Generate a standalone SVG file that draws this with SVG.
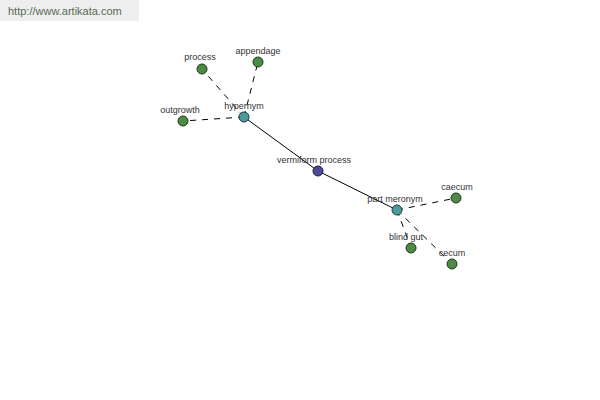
<svg xmlns="http://www.w3.org/2000/svg" width="600" height="400" viewBox="0 0 600 400">
<style>
.bg{fill:#ffffff}
.wm{fill:#eeeeee}
.wmt{font-family:"Liberation Sans",Arial,sans-serif;font-size:11px;fill:#556b55}
.lbl{font-family:"Liberation Sans",Arial,sans-serif;font-size:9px;fill:#333333;text-anchor:middle}
.leaf{fill:#4d8a45;stroke:#1f3a1c;stroke-width:1}
.rel{fill:#4a9a9e;stroke:#1f3a3c;stroke-width:1}
.root{fill:#4a4a9a;stroke:#1c1c3a;stroke-width:1}
.solid{stroke:#000;stroke-width:1;fill:none}
.dash{stroke:#000;stroke-width:1;fill:none;stroke-dasharray:6,6}
</style>
<rect class="bg" x="0" y="0" width="600" height="400"/>
<g id="watermark">
<rect class="wm" x="0" y="0" width="139" height="21"/>
<text class="wmt" x="8" y="15">http://www.artikata.com</text>
</g>
<g id="connectors">
<line class="solid" x1="244" y1="117" x2="318" y2="171"/>
<line class="solid" x1="318" y1="171" x2="397" y2="210"/>
<line class="dash" x1="244" y1="117" x2="202" y2="69"/>
<line class="dash" x1="244" y1="117" x2="258" y2="62"/>
<line class="dash" x1="244" y1="117" x2="183" y2="121"/>
<line class="dash" x1="397" y1="210" x2="456" y2="198"/>
<line class="dash" x1="397" y1="210" x2="411" y2="248"/>
<line class="dash" x1="397" y1="210" x2="452" y2="264"/>
</g>
<g id="process"><circle class="leaf" cx="202" cy="69" r="5"/><text class="lbl" x="200" y="60">process</text></g>
<g id="appendage"><circle class="leaf" cx="258" cy="62" r="5"/><text class="lbl" x="258" y="54">appendage</text></g>
<g id="outgrowth"><circle class="leaf" cx="183" cy="121" r="5"/><text class="lbl" x="180" y="113">outgrowth</text></g>
<g id="hypernym"><circle class="rel" cx="244" cy="117" r="5"/><text class="lbl" x="244" y="109">hypernym</text></g>
<g id="vermiform-process"><circle class="root" cx="318" cy="171" r="5"/><text class="lbl" x="314" y="163">vermiform process</text></g>
<g id="part-meronym"><circle class="rel" cx="397" cy="210" r="5"/><text class="lbl" x="395" y="202">part meronym</text></g>
<g id="caecum"><circle class="leaf" cx="456" cy="198" r="5"/><text class="lbl" x="457" y="190">caecum</text></g>
<g id="blind-gut"><circle class="leaf" cx="411" cy="248" r="5"/><text class="lbl" x="406" y="240">blind gut</text></g>
<g id="cecum"><circle class="leaf" cx="452" cy="264" r="5"/><text class="lbl" x="452" y="256">cecum</text></g>
</svg>
